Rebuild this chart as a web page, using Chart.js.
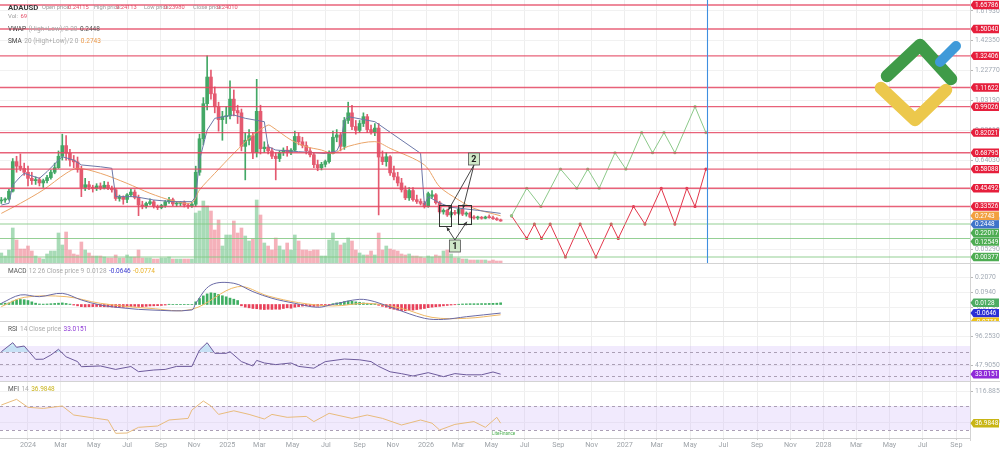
<!DOCTYPE html>
<html>
<head>
<meta charset="utf-8">
<title>ADAUSD</title>
<script src="https://cdn.jsdelivr.net/npm/chart.js@4.4.1/dist/chart.umd.min.js"></script>
<style>
html,body{margin:0;padding:0;background:#ffffff;overflow:hidden}
#wrap{position:relative;width:1000px;height:449px}
canvas{display:block}
</style>
</head>
<body>
<div id="wrap"><canvas id="chart" width="1000" height="449"></canvas></div>
<script>
// ================= DATA =================
const symbol = 'ADAUSD';
const firstWeek = '2023-11-13';            // weekly candles start
const openP = [0.372,0.378,0.384,0.436,0.630,0.600,0.585,0.560,0.520,0.505,
0.512,0.490,0.505,0.525,0.560,0.590,0.665,0.735,0.685,0.640,
0.628,0.580,0.460,0.478,0.462,0.455,0.470,0.458,0.475,0.455,
0.445,0.388,0.396,0.382,0.412,0.430,0.395,0.345,0.338,0.355,
0.366,0.335,0.328,0.342,0.366,0.380,0.352,0.356,0.362,0.344,
0.338,0.350,0.560,0.780,1.010,1.185,1.075,0.990,0.905,0.925,
0.930,1.040,0.965,0.950,0.730,0.770,0.800,0.690,0.960,0.715,
0.725,0.700,0.665,0.650,0.690,0.705,0.690,0.705,0.795,0.760,
0.735,0.700,0.675,0.610,0.590,0.612,0.630,0.684,0.790,0.805,
0.730,0.900,0.950,0.860,0.835,0.880,0.925,0.840,0.825,0.850,
0.660,0.630,0.662,0.556,0.530,0.490,0.445,0.392,0.440,0.380,
0.368,0.356,0.334,0.402,0.412,0.360,0.300,0.310,0.280,0.296,
0.290,0.318,0.285,0.292,0.266,0.260,0.262,0.258,0.266,0.262,
0.255,0.248];
const highP = [0.395,0.392,0.448,0.650,0.665,0.680,0.620,0.600,0.560,0.530,
0.525,0.515,0.540,0.575,0.620,0.700,0.810,0.800,0.710,0.670,
0.660,0.600,0.520,0.500,0.475,0.485,0.490,0.500,0.495,0.470,
0.455,0.410,0.405,0.420,0.450,0.445,0.410,0.370,0.365,0.385,
0.375,0.345,0.350,0.375,0.395,0.390,0.362,0.368,0.372,0.356,
0.362,0.600,0.810,1.050,1.325,1.230,1.120,1.020,0.960,0.990,
1.160,1.100,1.000,0.975,0.820,0.840,0.820,1.170,1.000,0.760,
0.740,0.720,0.690,0.700,0.720,0.730,0.715,0.830,0.820,0.790,
0.760,0.720,0.690,0.640,0.625,0.640,0.700,0.830,0.840,0.820,
0.920,1.020,1.000,0.900,0.900,0.950,0.940,0.870,0.880,0.880,
0.700,0.690,0.670,0.600,0.560,0.520,0.470,0.460,0.460,0.410,
0.385,0.370,0.430,0.440,0.420,0.370,0.320,0.318,0.305,0.310,
0.330,0.322,0.300,0.298,0.275,0.272,0.270,0.272,0.280,0.272,
0.262,0.253];
const lowP = [0.355,0.362,0.376,0.430,0.560,0.570,0.540,0.470,0.480,0.480,
0.470,0.460,0.490,0.515,0.550,0.585,0.640,0.640,0.600,0.590,
0.560,0.400,0.440,0.445,0.430,0.440,0.445,0.450,0.445,0.430,
0.375,0.370,0.350,0.360,0.400,0.385,0.275,0.320,0.325,0.345,
0.325,0.315,0.320,0.330,0.355,0.340,0.335,0.340,0.332,0.322,
0.330,0.335,0.540,0.740,0.970,1.040,0.950,0.830,0.770,0.880,
0.910,0.930,0.880,0.700,0.510,0.740,0.650,0.660,0.680,0.690,
0.680,0.650,0.510,0.630,0.670,0.665,0.675,0.700,0.740,0.720,
0.680,0.660,0.590,0.570,0.575,0.595,0.620,0.680,0.760,0.700,
0.710,0.880,0.840,0.810,0.820,0.860,0.820,0.810,0.800,0.280,
0.610,0.600,0.540,0.510,0.470,0.430,0.380,0.375,0.370,0.355,
0.345,0.325,0.330,0.390,0.350,0.290,0.285,0.270,0.265,0.280,
0.280,0.275,0.272,0.260,0.252,0.250,0.252,0.254,0.258,0.250,
0.244,0.238];
const closeP = [0.378,0.384,0.436,0.630,0.600,0.585,0.560,0.520,0.505,0.512,
0.490,0.505,0.525,0.560,0.590,0.665,0.735,0.685,0.640,0.628,
0.580,0.460,0.478,0.462,0.455,0.470,0.458,0.475,0.455,0.445,
0.388,0.396,0.382,0.412,0.430,0.395,0.345,0.338,0.355,0.366,
0.335,0.328,0.342,0.366,0.380,0.352,0.356,0.362,0.344,0.338,
0.350,0.560,0.780,1.010,1.185,1.075,0.990,0.905,0.925,0.930,
1.040,0.965,0.950,0.730,0.770,0.800,0.690,0.960,0.715,0.725,
0.700,0.665,0.650,0.690,0.705,0.690,0.705,0.795,0.760,0.735,
0.700,0.675,0.610,0.590,0.612,0.630,0.684,0.790,0.805,0.730,
0.900,0.950,0.860,0.835,0.880,0.925,0.840,0.825,0.850,0.660,
0.630,0.662,0.556,0.530,0.490,0.445,0.392,0.440,0.380,0.368,
0.356,0.334,0.420,0.412,0.360,0.300,0.310,0.280,0.296,0.290,
0.318,0.285,0.292,0.266,0.260,0.262,0.258,0.266,0.262,0.255,
0.248,0.2401];
const volume = [100,70,130,350,230,140,140,170,120,70,
50,40,90,120,120,300,180,310,130,90,
80,210,130,100,70,70,70,60,50,50,
80,50,50,80,60,60,130,50,50,50,
40,40,50,50,60,40,40,40,40,40,
40,500,520,620,570,520,330,430,170,280,
280,420,300,350,270,220,240,630,480,200,
170,130,250,170,130,200,130,280,220,130,
130,120,130,130,70,70,230,300,220,180,
200,250,220,130,100,80,80,120,80,300,
130,170,140,130,120,90,80,90,70,70,
60,50,70,60,80,70,120,130,90,50,
50,40,40,30,30,30,30,30,20,30,
20,20];

// indicator lines (week index, value)
const vwapWeeks  = [0,2,3,5,6,10,12,15,16,19,21,26,29,30,35,40,45,50,51,52,54,56,61,64,69,70,72,78,85,88,89,90,91,98,110,111,112,115,118,125,131];
const vwapValues = [0.345,0.356,0.476,0.531,0.553,0.520,0.564,0.640,0.662,0.640,0.608,0.596,0.586,0.400,0.400,0.378,0.367,0.367,0.400,0.640,0.837,0.914,0.936,0.914,0.892,0.728,0.706,0.695,0.684,0.700,0.750,0.900,0.925,0.892,0.684,0.345,0.400,0.358,0.330,0.310,0.290];
const smaWeeks   = [0,5,11,17,20,26,33,39,45,50,52,56,61,66,70,71,76,80,84,87,91,98,102,111,115,120,124,131];
const smaValues  = [0.290,0.356,0.444,0.553,0.586,0.553,0.487,0.422,0.373,0.360,0.444,0.553,0.684,0.804,0.870,0.859,0.772,0.728,0.706,0.684,0.730,0.761,0.717,0.608,0.465,0.378,0.323,0.2743];

const macdHist = [0.008,0.010,0.012,0.025,0.035,0.038,0.036,0.030,0.020,0.010,
0.004,0.003,0.004,0.006,0.008,0.010,0.012,0.008,0.003,-0.004,
-0.010,-0.016,-0.018,-0.017,-0.016,-0.015,-0.016,-0.017,-0.018,-0.019,
-0.021,-0.022,-0.021,-0.019,-0.016,-0.014,-0.015,-0.016,-0.014,-0.011,
-0.010,-0.009,-0.007,-0.004,0.002,0.001,0.001,0.001,0.001,0.001,
0.001,0.020,0.045,0.065,0.080,0.088,0.085,0.076,0.066,0.058,
0.048,0.040,0.030,-0.010,-0.020,-0.025,-0.030,-0.032,-0.036,-0.038,
-0.036,-0.037,-0.035,-0.036,-0.030,-0.025,-0.028,-0.020,-0.016,-0.012,
-0.010,-0.012,-0.014,-0.013,-0.010,-0.008,-0.004,0.006,0.012,0.016,
0.022,0.026,0.024,0.020,0.016,0.012,0.008,0.006,0.004,-0.006,
-0.014,-0.020,-0.030,-0.036,-0.042,-0.046,-0.047,-0.044,-0.042,-0.038,
-0.034,-0.030,-0.024,-0.020,-0.017,-0.014,-0.010,-0.007,-0.004,-0.002,
0.002,0.004,0.005,0.006,0.006,0.006,0.007,0.007,0.008,0.009,
0.010,0.0128];
const macdWeeks   = [0,5,10,16,21,26,33,39,50,51,55,61,66,71,77,83,87,94,98,103,111,116,122,131];
const macdValues  = [0.009,0.072,0.059,0.084,0.034,-0.004,-0.029,-0.041,-0.041,0.009,0.147,0.160,0.097,0.047,0.009,-0.021,0.001,0.039,0.021,-0.029,-0.104,-0.112,-0.092,-0.0646];
const signalWeeks = [0,6,17,26,39,50,62,70,78,87,96,105,113,122,131];
const signalValues= [-0.016,0.054,0.059,0.009,-0.029,-0.036,0.134,0.064,0.014,-0.011,0.009,-0.029,-0.097,-0.104,-0.0774];

const rsiWeeks  = [0,3,4,6,9,11,13,15,17,20,21,26,30,34,36,40,43,46,50,52,54,56,59,60,63,66,67,69,72,76,78,82,85,90,94,97,99,102,105,108,112,116,119,122,126,129,131];
const rsiValues = [70.5,85.5,77.8,80,57.8,58,65,74.5,62,54,45.5,46.7,41,45.8,37.2,40,41,46,46,73.3,85.5,67.8,67.8,70.5,54,46.7,56,51.7,49,51.7,46,43,54,58.3,57,54,46,37,33.9,30,35.6,28.9,34,32,32,36.7,33.0151];
const mfiWeeks  = [0,4,7,11,16,19,25,28,30,33,36,41,44,49,50,53,55,57,61,65,69,71,75,80,82,86,92,96,100,105,110,113,115,119,124,127,130,131];
const mfiValues = [82.5,96.7,76.7,74,80,57.5,49,45,11.7,12.5,26.7,30,45,49,70,92.5,80,59,68,59,47.5,59,51.7,54,41,61.7,49,57.5,49,32.5,45,37,20,34,41,26.7,51.7,36.9848];

// support / resistance levels
const levelsRed   = [1.65786,1.50040,1.32406,1.11622,0.99026,0.82021,0.68795,0.58088,0.45492,0.33526];
const levelsGreen = [0.22017,0.12549,0.00377];

// forecast scenarios
const bullDates  = ['2026-06-07','2026-07-05','2026-07-31','2026-09-05','2026-10-05','2026-10-25','2026-11-15','2026-12-14','2027-01-03','2027-02-01','2027-02-21','2027-03-14','2027-04-03','2027-05-10','2027-05-30'];
const bullValues = [0.2743,0.45492,0.33526,0.58088,0.45492,0.58088,0.45492,0.68795,0.58088,0.82021,0.68795,0.82021,0.68795,0.99026,0.82021];
const bearDates  = ['2026-06-07','2026-07-05','2026-07-19','2026-08-01','2026-08-17','2026-09-14','2026-10-11','2026-11-09','2026-12-07','2026-12-20','2027-01-17','2027-02-07','2027-03-09','2027-04-03','2027-04-25','2027-05-10','2027-05-30'];
const bearValues = [0.2743,0.12549,0.22017,0.12549,0.22017,0.00377,0.22017,0.00377,0.22017,0.12549,0.33526,0.22017,0.45492,0.22017,0.45492,0.33526,0.58088];
const forecastEnd = '2027-06-01';

// annotations
const boxFrom = ['2026-01-25','2026-03-01'];
const boxTo   = ['2026-02-16','2026-03-25'];
const boxHigh = [0.345,0.345];
const boxLow  = [0.207,0.222];
const label2 = {text:'2', date:'2026-03-30', price:0.647, targets:[['2026-02-11',0.312],['2026-03-10',0.323]]};
const label1 = {text:'1', date:'2026-02-23', price:0.076, targets:[['2026-02-08',0.199],['2026-03-17',0.2355]]};

// header quote
const quoteLabels = ['Open price:','High price:','Low price:','Close price:'];
const quoteValues = ['0.24115','0.24113','0.23980','0.24010'];

// axis ticks
const priceTicks = [1.6193,1.5214,1.4235,1.3256,1.2277,1.1298,1.0319,0.9340,0.8361,0.7382,0.6403,0.5424,0.4445,0.3466,0.2487,0.1508,0.0529];
const macdTicks = [0.2070,0.0940,-0.0190];
const rsiTicks  = [96.2530,72.0790,47.9050,23.7310];
const mfiTicks  = [116.8850,78.1690,39.4530,0.7370];
const monthNames = ['Jan','Feb','Mar','Apr','May','Jun','Jul','Aug','Sep','Oct','Nov','Dec'];

// ================= HELPERS =================
const FONT = 'Roboto, "Open Sans", "DejaVu Sans", sans-serif';
const DAY0 = Date.parse('2024-01-01');
const dayNum = s => (Date.parse(s) - DAY0) / 86400000;
const W0 = dayNum(firstWeek);
const weekX = w => W0 + 7 * w;
const X_MIN = -51.42, X_MAX = 1730.0;

const monthTicks = [], monthLabel = {};
for (let y = 2024; y <= 2028; y++) {
  for (let m = 0; m < 12; m += 2) {
    const d = (Date.UTC(y, m, 1) - DAY0) / 86400000;
    if (d >= X_MIN && d <= X_MAX) { monthTicks.push(d); monthLabel[d] = m === 0 ? String(y) : monthNames[m]; }
  }
}

const UP = '#43a866', DN = '#e45a70';
const isUp = closeP.map((c, i) => c >= openP[i]);
const pts = (weeks, vals) => weeks.map((w, i) => ({x: weekX(w), y: vals[i]}));
const dpts = (dates, vals) => dates.map((d, i) => ({x: dayNum(d), y: vals[i]}));

// ================= CHART =================
const datasets = [
  {type:'line', label:'bull', data: dpts(bullDates, bullValues), yAxisID:'y', borderColor:'#8cc98a', borderWidth:1,
   pointRadius:1.6, pointHoverRadius:0, pointBackgroundColor:'#8cc98a', pointBorderWidth:0, tension:0, order:1},
  {type:'line', label:'bear', data: dpts(bearDates, bearValues), yAxisID:'y', borderColor:'#e2364a', borderWidth:1,
   pointRadius:1.6, pointHoverRadius:0, pointBackgroundColor:'#e2364a', pointBorderWidth:0, tension:0, order:1},
  {type:'line', label:'VWAP', data: pts(vwapWeeks, vwapValues), yAxisID:'y', borderColor:'#6c78a8', borderWidth:1, pointRadius:0, tension:0, order:2},
  {type:'line', label:'SMA', data: pts(smaWeeks, smaValues), yAxisID:'y', borderColor:'#eaa468', borderWidth:1, pointRadius:0, tension:0.3, order:2},
  {type:'bar', label:'bodies', data: closeP.map((c, i) => ({x: weekX(i), y:[openP[i], c]})), yAxisID:'y',
   backgroundColor: isUp.map(u => u ? UP : DN), barThickness:3, minBarLength:1, grouped:false, order:3},
  {type:'bar', label:'wicks', data: closeP.map((c, i) => ({x: weekX(i), y:[lowP[i], highP[i]]})), yAxisID:'y',
   backgroundColor: isUp.map(u => u ? UP : DN), barThickness:1, grouped:false, order:4},
  {type:'bar', label:'volume', data: volume.map((v, i) => ({x: weekX(i), y: v})), yAxisID:'yVol',
   backgroundColor: isUp.map(u => u ? 'rgba(110,195,135,0.6)' : 'rgba(238,125,140,0.6)'), barThickness:3, grouped:false, order:9},
  {type:'bar', label:'hist', data: macdHist.map((v, i) => ({x: weekX(i), y: v})), yAxisID:'yMacd',
   backgroundColor: macdHist.map(v => v >= 0 ? '#3fae62' : '#e8415a'), barThickness:2, grouped:false, order:6},
  {type:'line', label:'MACD', data: pts(macdWeeks, macdValues), yAxisID:'yMacd', borderColor:'#6a6aa6', borderWidth:1, pointRadius:0, tension:0.35, order:5},
  {type:'line', label:'Signal', data: pts(signalWeeks, signalValues), yAxisID:'yMacd', borderColor:'#efb864', borderWidth:1, pointRadius:0, tension:0.35, order:5},
  {type:'line', label:'RSI', data: pts(rsiWeeks, rsiValues), yAxisID:'yRsi', borderColor:'#6d5a9c', borderWidth:1, pointRadius:0, tension:0,
   fill:{value:70, above:'rgba(120,205,230,0.35)', below:'rgba(0,0,0,0)'}, order:5},
  {type:'line', label:'MFI', data: pts(mfiWeeks, mfiValues), yAxisID:'yMfi', borderColor:'#e8bb7c', borderWidth:1, pointRadius:0, tension:0, order:5}
];

const tickFont = {family: FONT, size: 6.8};
function noPad(ax) { ax.paddingTop = 0; ax.paddingBottom = 0; ax.paddingLeft = 0; ax.paddingRight = 0; }
function yAxis(weight, min, max, ticks, digits) {
  return {
    type:'linear', position:'right', stack:'panes', stackWeight: weight, min, max,
    grid:{color:'#f1f1f1', tickLength:3, tickColor:'#b9b9b9', drawTicks:true},
    border:{display:false},
    ticks:{font: tickFont, color:'#a3abb5', padding:2, callback: v => Number(v).toFixed(digits)},
    afterBuildTicks: ax => { ax.ticks = ticks.map(v => ({value: v})); },
    afterFit: ax => { ax.width = 30; noPad(ax); }
  };
}

const scales = {
  x: {type:'linear', position:'bottom', min:X_MIN, max:X_MAX, offset:false,
      grid:{color:'#eeeeee', offset:false, tickLength:2, tickColor:'#cccccc'},
      border:{color:'#cfcfcf'},
      ticks:{font:{family:FONT, size:7.2}, color:'#9ea3a8', padding:1, maxRotation:0, autoSkip:false,
             callback: v => monthLabel[v] || ''},
      afterBuildTicks: ax => { ax.ticks = monthTicks.map(v => ({value: v})); },
      afterFit: ax => { ax.height = 11; noPad(ax); }},
  y:     yAxis(263, -0.0356, 1.69068, priceTicks, 5),
  yMacd: yAxis(58, -0.1243, 0.3127, macdTicks, 4),
  yRsi:  yAxis(60, 21.67, 121.67, rsiTicks, 4),
  yMfi:  yAxis(57, 0, 142.5, mfiTicks, 4),
  yVol:  {type:'linear', display:false, position:'right', min:-1750, max:2630, afterFit: noPad}
};

function seg(ctx, parts, x, y, size, gap) {
  let cx = x;
  for (const p of parts) {
    ctx.font = (p[2] ? 'bold ' : '') + (p[3] || size || 6) + 'px ' + FONT;
    ctx.fillStyle = p[1];
    ctx.fillText(p[0], cx, y);
    cx += ctx.measureText(p[0]).width + (gap === undefined ? 2.4 : gap);
  }
}

function drawBadges(ctx, chart, list, top, bottom) {
  const right = chart.chartArea.right;
  const items = list.map(b => ({...b, py: chart.scales[b.axis].getPixelForValue(b.value)})).sort((a, b) => a.py - b.py);
  for (let k = 1; k < items.length; k++) if (items[k].py < items[k-1].py + 8.6) items[k].py = items[k-1].py + 8.6;
  ctx.save();
  ctx.beginPath(); ctx.rect(right, top, 1000 - right, bottom - top); ctx.clip();
  for (const it of items) {
    const y = it.py, h = 8.4, x0 = right + 0.5;
    ctx.fillStyle = it.bg;
    ctx.beginPath();
    ctx.moveTo(x0, y); ctx.lineTo(x0 + 3, y - h/2); ctx.lineTo(999, y - h/2); ctx.lineTo(999, y + h/2); ctx.lineTo(x0 + 3, y + h/2);
    ctx.closePath(); ctx.fill();
    ctx.fillStyle = it.fg || '#ffffff';
    ctx.font = '6.4px ' + FONT; ctx.textBaseline = 'middle'; ctx.textAlign = 'left';
    ctx.fillText(it.text, x0 + 4.5, y + 0.4);
  }
  ctx.restore();
}

const deco = {
  id:'deco',
  beforeDatasetsDraw(chart) {
    const {ctx, chartArea:a, scales:s} = chart;
    ctx.save();
    const band = (ax, hi, lo, color) => {
      const y1 = Math.max(ax.getPixelForValue(hi), ax.top), y2 = Math.min(ax.getPixelForValue(lo), ax.bottom);
      ctx.fillStyle = color; ctx.fillRect(a.left, y1, a.right - a.left, y2 - y1);
    };
    band(s.yRsi, 80, 20, 'rgba(214,190,248,0.33)');
    band(s.yMfi, 80, 20, 'rgba(214,190,248,0.33)');
    ctx.setLineDash([3, 3]); ctx.strokeStyle = '#ab9fb5'; ctx.lineWidth = 1;
    const dash = (ax, v) => { const y = Math.round(ax.getPixelForValue(v)) + 0.5; ctx.beginPath(); ctx.moveTo(a.left, y); ctx.lineTo(a.right, y); ctx.stroke(); };
    [70, 50, 30].forEach(v => dash(s.yRsi, v));
    [80, 20].forEach(v => dash(s.yMfi, v));
    ctx.restore();
  },
  afterDatasetsDraw(chart) {
    const {ctx, chartArea:a, scales:s} = chart;
    ctx.save();
    const hline = (v, color, w) => { const y = s.y.getPixelForValue(v); ctx.strokeStyle = color; ctx.lineWidth = w; ctx.beginPath(); ctx.moveTo(a.left, y); ctx.lineTo(a.right, y); ctx.stroke(); };
    levelsRed.forEach(v => hline(v, 'rgba(228,70,98,0.85)', 1.3));
    levelsGreen.forEach(v => hline(v, 'rgba(130,200,130,0.85)', 1.1));
    const vx = s.x.getPixelForValue(dayNum(forecastEnd));
    ctx.strokeStyle = '#3f8fe0'; ctx.lineWidth = 1.1;
    ctx.beginPath(); ctx.moveTo(Math.round(vx) + 0.5, a.top); ctx.lineTo(Math.round(vx) + 0.5, s.y.bottom); ctx.stroke();
    ctx.strokeStyle = '#333'; ctx.lineWidth = 1;
    boxFrom.forEach((d, i) => {
      const x1 = s.x.getPixelForValue(dayNum(d)), x2 = s.x.getPixelForValue(dayNum(boxTo[i]));
      const y1 = s.y.getPixelForValue(boxHigh[i]), y2 = s.y.getPixelForValue(boxLow[i]);
      ctx.strokeRect(Math.round(x1) + 0.5, Math.round(y1) + 0.5, Math.round(x2 - x1), Math.round(y2 - y1));
    });
    const drawLabel = (L, up) => {
      const cx = s.x.getPixelForValue(dayNum(L.date)), cy = s.y.getPixelForValue(L.price);
      const sy = up ? cy - 6 : cy + 6;
      L.targets.forEach(t => {
        const tx = s.x.getPixelForValue(dayNum(t[0])), ty = s.y.getPixelForValue(t[1]);
        ctx.strokeStyle = '#333'; ctx.lineWidth = 0.9;
        ctx.beginPath(); ctx.moveTo(cx, sy); ctx.lineTo(tx, ty); ctx.stroke();
        const ang = Math.atan2(ty - sy, tx - cx);
        ctx.fillStyle = '#333'; ctx.beginPath();
        ctx.moveTo(tx, ty);
        ctx.lineTo(tx - 4 * Math.cos(ang - 0.45), ty - 4 * Math.sin(ang - 0.45));
        ctx.lineTo(tx - 4 * Math.cos(ang + 0.45), ty - 4 * Math.sin(ang + 0.45));
        ctx.closePath(); ctx.fill();
      });
      ctx.fillStyle = '#cfe8c8'; ctx.fillRect(cx - 5.5, cy - 6, 11, 12);
      ctx.strokeStyle = '#555'; ctx.lineWidth = 0.8; ctx.strokeRect(cx - 5.5, cy - 6, 11, 12);
      ctx.fillStyle = '#1d1d1d'; ctx.font = 'bold 9px ' + FONT; ctx.textAlign = 'center'; ctx.textBaseline = 'middle';
      ctx.fillText(L.text, cx, cy + 0.5);
    };
    drawLabel(label2, false);
    drawLabel(label1, true);
    ctx.restore();
    // logo (decoration)
    ctx.save();
    ctx.lineCap = 'round'; ctx.lineJoin = 'round'; ctx.lineWidth = 12.5;
    ctx.strokeStyle = '#ecc84c'; ctx.beginPath(); ctx.moveTo(881, 88); ctx.lineTo(915, 120); ctx.lineTo(946, 90); ctx.stroke();
    ctx.strokeStyle = '#3f9b48'; ctx.beginPath(); ctx.moveTo(887, 76); ctx.lineTo(920, 45); ctx.lineTo(951, 79); ctx.stroke();
    ctx.lineWidth = 10;
    ctx.strokeStyle = '#3f9ad9'; ctx.beginPath(); ctx.moveTo(940, 62); ctx.lineTo(956, 46); ctx.stroke();
    ctx.restore();
  },
  afterDraw(chart) {
    const {ctx, chartArea:a, scales:s} = chart;
    ctx.save();
    ctx.strokeStyle = '#d3d3d3'; ctx.lineWidth = 1;
    [s.yMacd.top, s.yRsi.top, s.yMfi.top].forEach(y => { const yy = Math.round(y) + 0.5; ctx.beginPath(); ctx.moveTo(0, yy); ctx.lineTo(1000, yy); ctx.stroke(); });
    ctx.beginPath(); ctx.moveTo(a.right + 0.5, 0); ctx.lineTo(a.right + 0.5, a.bottom + 3); ctx.stroke();
    ctx.textBaseline = 'middle'; ctx.textAlign = 'left';
    seg(ctx, [[symbol, '#3b3b3b', true, 7.8]], 8, 8);
    const qLabelX = [42, 94, 144, 193], qValueX = [68, 116, 164, 217];
    quoteLabels.forEach((t, i) => {
      ctx.font = '5.7px ' + FONT; ctx.fillStyle = '#9a9a9a'; ctx.fillText(t, qLabelX[i], 8);
      ctx.fillStyle = '#e4506a'; ctx.fillText(quoteValues[i], qValueX[i], 8);
    });
    seg(ctx, [['Vol:', '#9a9a9a'], ['69', '#e4506a']], 8, 16, 6);
    seg(ctx, [['VWAP', '#444'], ['(High+Low)/2 20', '#a8a8a8'], ['0.2448', '#555']], 8, 29, 6.5);
    seg(ctx, [['SMA', '#444'], ['20 (High+Low)/2 0', '#a8a8a8'], ['0.2743', '#eb9a4c']], 8, 41, 6.5);
    seg(ctx, [['MACD', '#555'], ['12 26 Close price 9', '#a8a8a8'], ['0.0128', '#a8a8a8'], ['-0.0646', '#3b3bd0'], ['-0.0774', '#e9b22a']], 8, 271, 6.5);
    seg(ctx, [['RSI', '#555'], ['14 Close price', '#a8a8a8'], ['33.0151', '#8e3ad6']], 8, 329, 6.5);
    seg(ctx, [['MFI', '#555'], ['14', '#a8a8a8'], ['36.9848', '#c9b31c']], 8, 389, 6.5);
    ctx.fillStyle = '#4caf50'; ctx.font = '4.5px ' + FONT; ctx.fillText('LiteFinance', 492, 434);
    ctx.restore();
    const main = levelsRed.map(v => ({axis:'y', value:v, text:v.toFixed(5), bg:'#e61f3c'}))
      .concat([{axis:'y', value:0.2743, text:'0.2743', bg:'#f2a03f'}, {axis:'y', value:0.2448, text:'0.2448', bg:'#3f73c9'}])
      .concat(levelsGreen.map(v => ({axis:'y', value:v, text:v.toFixed(5), bg:'#4dac52'})));
    drawBadges(ctx, chart, main, s.y.top, s.y.bottom + 2);
    drawBadges(ctx, chart, [{axis:'yMacd', value:0.0128, text:'0.0128', bg:'#4dac62'},
      {axis:'yMacd', value:-0.0646, text:'-0.0646', bg:'#2b2fd6'},
      {axis:'yMacd', value:-0.0774, text:'-0.0774', bg:'#ecc21a'}], s.yMacd.top, s.yMacd.bottom);
    drawBadges(ctx, chart, [{axis:'yRsi', value:33.0151, text:'33.0151', bg:'#8f2bd8'}], s.yRsi.top, s.yRsi.bottom);
    drawBadges(ctx, chart, [{axis:'yMfi', value:36.9848, text:'36.9848', bg:'#c8b514'}], s.yMfi.top, s.yMfi.bottom);
  }
};

Chart.defaults.font.family = FONT;
new Chart(document.getElementById('chart'), {
  type:'bar',
  data:{datasets},
  options:{
    responsive:false, animation:false, devicePixelRatio:1,
    layout:{padding:0, autoPadding:false},
    plugins:{legend:{display:false}, tooltip:{enabled:false}},
    scales
  },
  plugins:[deco]
});
</script>
</body>
</html>
